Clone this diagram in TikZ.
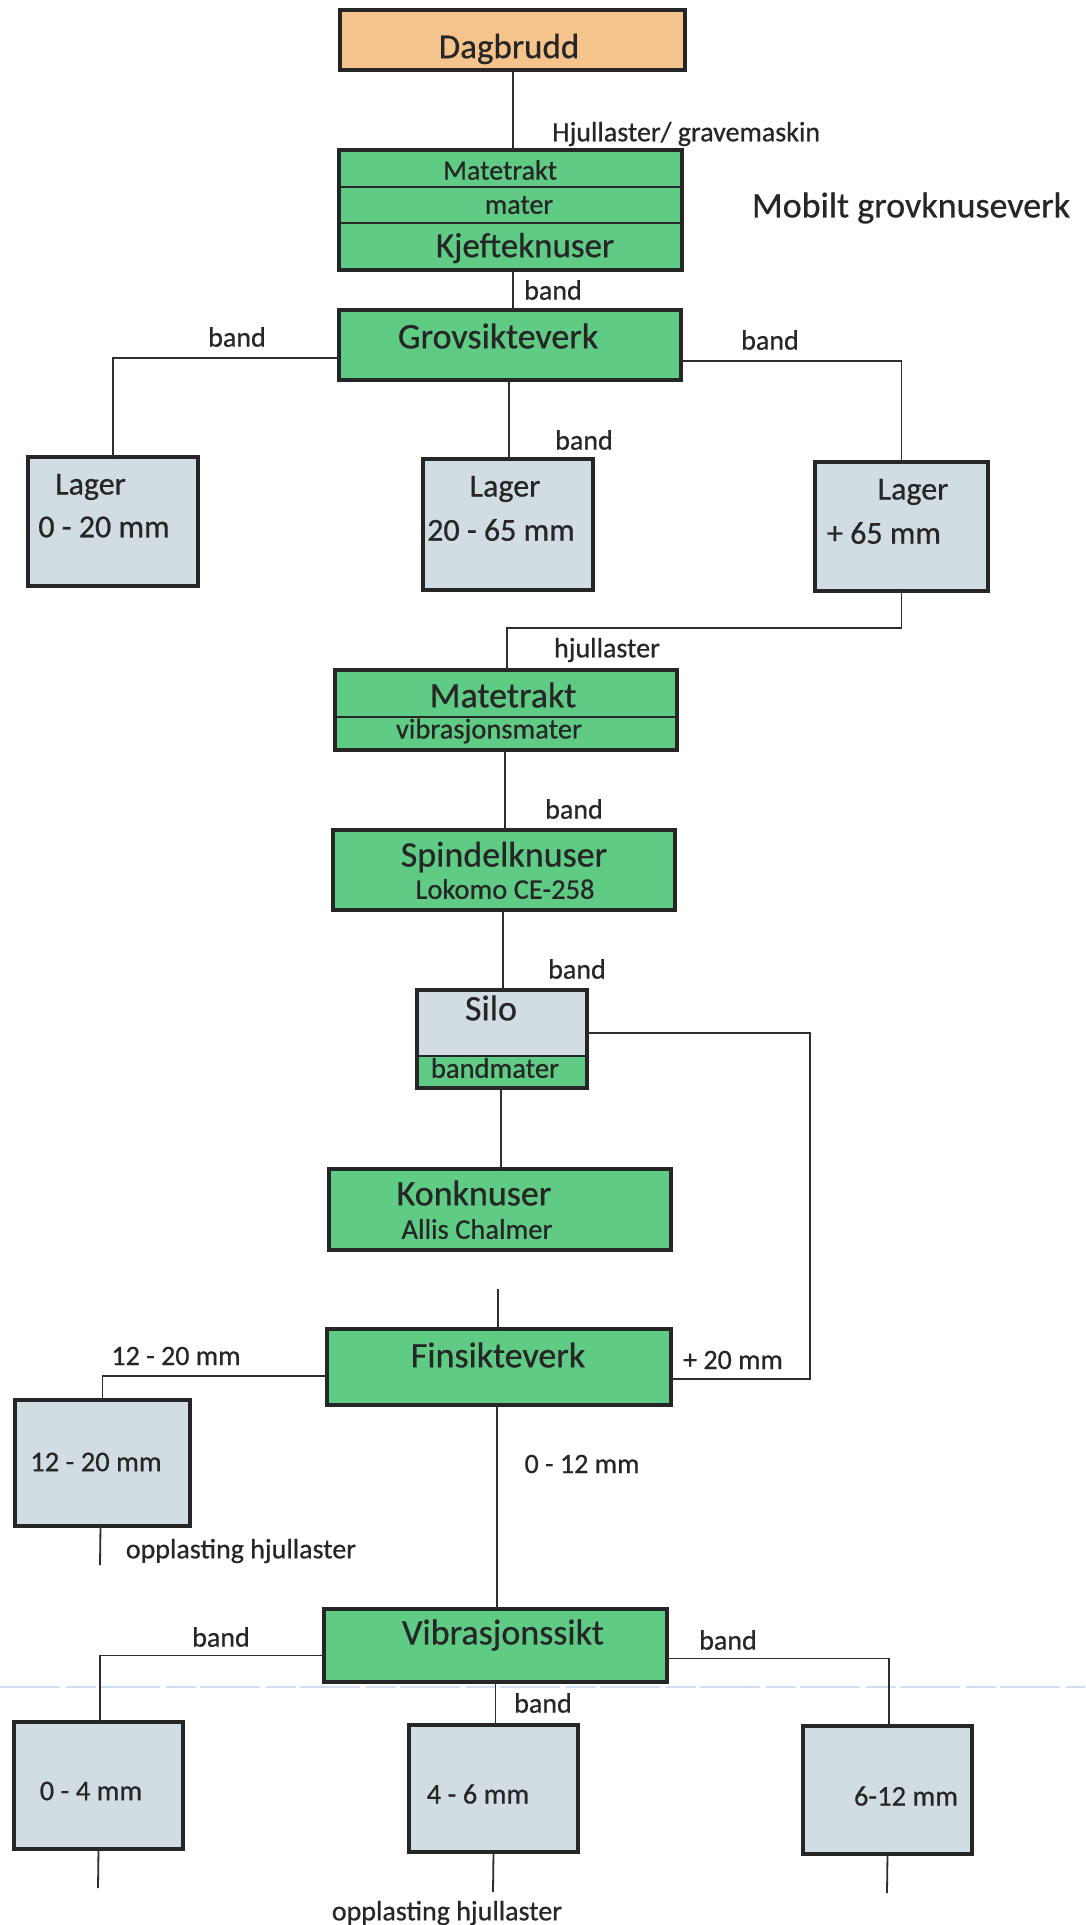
\documentclass[tikz,border=0pt]{standalone}
\usepackage{fontspec}
\setmainfont[FakeBold=0.6]{Carlito}
\definecolor{orangec}{HTML}{F5C38C}
\definecolor{greenc}{HTML}{5FCB85}
\definecolor{grayc}{HTML}{D2DCE3}
\definecolor{bordc}{HTML}{262626}
\definecolor{linec}{HTML}{2E2E2E}
\definecolor{textc}{HTML}{262626}
\definecolor{scanblue}{HTML}{D3DDF0}
\begin{document}
\begin{tikzpicture}[x=1pt,y=-1pt,
  box/.style={draw=bordc, line width=4.5pt, inner sep=0pt, outer sep=0pt},
  obox/.style={box, fill=orangec},
  gbox/.style={box, fill=greenc},
  bbox/.style={box, fill=grayc},
  conn/.style={draw=linec, line width=1.8pt},
  divl/.style={draw=bordc, line width=2.5pt},
  ttl/.style={text=textc, inner sep=0pt, font=\fontsize{36}{40}\selectfont},
  sub/.style={text=textc, inner sep=0pt, font=\fontsize{28.5}{32}\selectfont},
  lag/.style={text=textc, inner sep=0pt, font=\fontsize{32}{36}\selectfont},
  lbl/.style={text=textc, inner sep=0pt, font=\fontsize{28}{32}\selectfont}]
\useasboundingbox (0,0) rectangle (1085,1925);
\fill[white] (0,0) rectangle (1085,1925);
% faint scan line
\draw[scanblue, line width=1.5pt, dash pattern=on 60pt off 6pt on 30pt off 4pt] (0,1687) -- (1085,1687);

% boxes
\node[obox, minimum width=345pt, minimum height=60pt] (dag) at (512.5,40) {};
\node[gbox, minimum width=343pt, minimum height=120pt] (mate1) at (510.5,210) {};
\draw[divl] (337,187) -- (684,187);
\draw[divl] (337,223) -- (684,223);
\node[gbox, minimum width=342pt, minimum height=70pt] (grov) at (510,345) {};
\node[bbox, minimum width=170pt, minimum height=129pt] (lag1) at (113,521.5) {};
\node[bbox, minimum width=170pt, minimum height=131pt] (lag2) at (508,524.5) {};
\node[bbox, minimum width=173pt, minimum height=129pt] (lag3) at (901.5,526.5) {};
\node[gbox, minimum width=342pt, minimum height=80pt] (mate2) at (506,710) {};
\draw[divl] (333,717) -- (679,717);
\node[gbox, minimum width=342pt, minimum height=80pt] (spin) at (504,870) {};
\node[bbox, minimum width=170pt, minimum height=98pt] (silo) at (502,1039) {};
\fill[greenc] (417,1056) rectangle (587,1088);
\draw[divl] (415,1056) -- (589,1056);
\draw[draw=bordc, line width=4.5pt] (silo.south west) rectangle (silo.north east);
\node[gbox, minimum width=342pt, minimum height=81pt] (kon) at (500,1209.5) {};
\node[gbox, minimum width=344pt, minimum height=76pt] (fin) at (499,1367) {};
\node[bbox, minimum width=175pt, minimum height=126pt] (b1220) at (102.5,1463) {};
\node[gbox, minimum width=343pt, minimum height=73pt] (vib) at (495.5,1645.5) {};
\node[bbox, minimum width=169pt, minimum height=127pt] (b04) at (98.5,1785.5) {};
\node[bbox, minimum width=169pt, minimum height=127pt] (b46) at (493.5,1788.5) {};
\node[bbox, minimum width=169pt, minimum height=128pt] (b612) at (887.5,1790) {};

% texts in boxes
\node[ttl, font=\fontsize{35}{40}\selectfont] (tdag) at (509,49) {Dagbrudd};
\node[lbl] (tmt1) at (500,170) {Matetrakt};
\node[lbl] (tmat) at (519,205) {mater};
\node[ttl, font=\fontsize{35}{40}\selectfont] (tkj) at (525,248) {Kjefteknuser};
\node[ttl] (tgrov) at (498,336) {Grovsikteverk};
\node[lag] (tl1a) at (90.5,487) {Lager};
\node[lag] (tl1b) at (104,527) {0 - 20 mm};
\node[lag] (tl2a) at (505,489) {Lager};
\node[lag] (tl2b) at (501,530) {20 - 65 mm};
\node[lag] (tl3a) at (913,492) {Lager};
\node[lag] (tl3b) at (884,533) {+ 65 mm};
\node[ttl] (tmt2) at (503,695) {Matetrakt};
\node[sub] (tvib1) at (489,731) {vibrasjonsmater};
\node[ttl] (tspin) at (504,857) {Spindelknuser};
\node[sub] (tlok) at (505,889) {Lokomo CE-258};
\node[ttl] (tsilo) at (491,1008) {Silo};
\node[sub] (tbm) at (495,1068) {bandmater};
\node[ttl] (tkon) at (474,1193) {Konknuser};
\node[sub] (tall) at (477,1229) {Allis Chalmer};
\node[ttl] (tfin) at (498,1355) {Finsikteverk};
\node[sub] (tb1220) at (96,1462) {12 - 20 mm};
\node[ttl] (tvib) at (503,1635) {Vibrasjonssikt};
\node[sub] (tb04) at (91,1791) {0 - 4 mm};
\node[sub] (tb46) at (478,1794) {4 - 6 mm};
\node[sub] (tb612) at (906,1796) {6-12 mm};

% free labels
\node[ttl] (mobilt) at (911,208) {Mobilt grovknuseverk};
\node[lbl, anchor=west] (lhj) at (552,134) {Hjullaster/ gravemaskin};
\node[lbl] (lb1) at (553,290) {band};
\node[lbl] (lb2) at (237,337) {band};
\node[lbl] (lb3) at (584,440) {band};
\node[lbl] (lb4) at (770,340) {band};
\node[lbl] (lhj2) at (607,650) {hjullaster};
\node[lbl] (lb5) at (574,809) {band};
\node[lbl] (lb6) at (577,969) {band};
\node[lbl] (l1220) at (176,1356) {12 - 20 mm};
\node[lbl] (l20) at (733,1360) {+ 20 mm};
\node[lbl] (lopp1) at (241,1551) {opplasting hjullaster};
\node[lbl] (l012) at (582,1464) {0 - 12 mm};
\node[lbl] (lb7) at (221,1637) {band};
\node[lbl] (lb8) at (728,1640) {band};
\node[lbl] (lb9) at (543,1703) {band};
\node[lbl] (lopp2) at (447,1913) {opplasting hjullaster};

% connector helper coordinates
\coordinate (c65) at (507,628);
\coordinate (csilo) at (810,1033);
\coordinate (ckon) at (498,1289);
\coordinate (e1220) at (100,1565);
\coordinate (e04) at (98,1888);
\coordinate (e46) at (493,1892);
\coordinate (e612) at (887,1893);

% connectors
\draw[conn] ([xshift=0.5pt]dag.south) -- ([xshift=0.5pt]dag.south |- mate1.north);
\draw[conn] ([xshift=2.5pt]mate1.south) -- ([xshift=2.5pt]mate1.south |- grov.north);
\draw[conn] ([yshift=-13pt]grov.west) -| (lag1.north);
\draw[conn] ([xshift=-1pt]grov.south) -- ([xshift=-1pt]grov.south |- lag2.north);
\draw[conn] ([yshift=-16pt]grov.east) -| (lag3.north);
\draw[conn] (lag3.south) |- (c65) -- (c65 |- mate2.north);
\draw[conn] ([xshift=-1pt]mate2.south) -- ([xshift=-1pt]mate2.south |- spin.north);
\draw[conn] ([xshift=-1pt]spin.south) -- ([xshift=-1pt]spin.south |- silo.north);
\draw[conn] ([yshift=6pt]silo.east) -- (csilo) |- ([yshift=-12pt]fin.east);
\draw[conn] ([xshift=-1pt]silo.south) -- ([xshift=-1pt]silo.south |- kon.north);
\draw[conn] (ckon) -- (ckon |- fin.north);
\draw[conn] ([yshift=-9pt]fin.west) -| (b1220.north);
\draw[conn] ([xshift=-2pt]b1220.south) -- (e1220);
\draw[conn] ([xshift=-2pt]fin.south) -- ([xshift=-2pt]fin.south |- vib.north);
\draw[conn] ([yshift=-10pt]vib.west) -| ([xshift=1.5pt]b04.north);
\draw[conn] (vib.south) -- (vib.south |- b46.north);
\draw[conn] ([yshift=-13pt]vib.east) -| ([xshift=1.5pt]b612.north);
\draw[conn] (b04.south) -- (e04);
\draw[conn] (b46.south) -- (e46);
\draw[conn] (b612.south) -- (e612);
\end{tikzpicture}
\end{document}
